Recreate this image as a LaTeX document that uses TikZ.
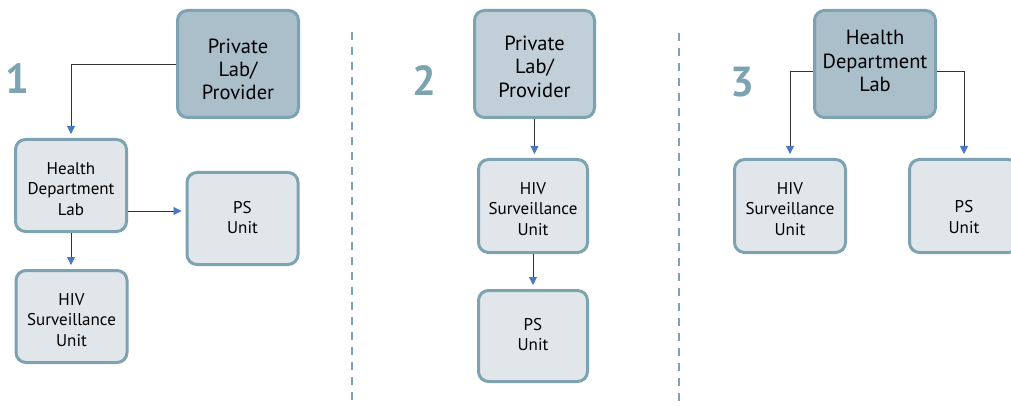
\documentclass[tikz,border=0pt]{standalone}
\usepackage{fontspec}
\setmainfont{PT Sans}
\usetikzlibrary{arrows.meta,calc}
\definecolor{bordc}{HTML}{7DA3B3}
\definecolor{darkf}{HTML}{AABFCA}
\definecolor{midf}{HTML}{C1D0D8}
\definecolor{lightf}{HTML}{E1E6EA}
\definecolor{tipc}{HTML}{4A78C2}
\definecolor{numc}{HTML}{7DA3B3}
\definecolor{linec}{HTML}{333333}
\tikzset{
  box/.style={draw=bordc, line width=3pt, rounded corners=10pt, inner sep=0pt, align=center, text=black},
  bigbox/.style={box, fill=darkf, minimum width=121pt, font=\fontsize{20.5}{23.3}\selectfont},
  smallbox/.style={box, fill=lightf, minimum width=111pt, font=\fontsize{17}{20.5}\selectfont},
  tb/.style 2 args={text height=#1pt, text depth=#2pt},
  arr/.style={draw=linec, line width=0.8pt, -{Triangle[length=8pt,width=8pt,color=tipc,fill=tipc]}, shorten >=4pt},
  sep/.style={draw=numc, line width=2pt, dash pattern=on 8pt off 7pt},
  num/.style={text=numc, font=\fontsize{42}{42}\bfseries\selectfont, inner sep=0pt}
}
\begin{document}
\begin{tikzpicture}[x=1pt,y=-1pt]
\useasboundingbox (0,0) rectangle (1011,406);
% panel 1
\node[num] (n1) at (17,79) {1};
\node[bigbox, tb={89.4}{17.6}] (p1) at (238,64) {Private\\Lab/\\Provider};
\node[smallbox, tb={75.5}{16.5}] (h1) at (71,185.5) {Health\\Department\\Lab};
\node[smallbox, tb={61.3}{30.7}] (ps1) at (242.5,218.5) {PS\\Unit};
\node[smallbox, tb={75.5}{16.5}] (hiv1) at (71.5,316.5) {HIV\\Surveillance\\Unit};
\draw[arr] (p1.west) -| (h1.north);
\coordinate (a1) at ([yshift=-25.5pt]h1.east);
\draw[arr] (a1) -- (a1 -| ps1.west);
\draw[arr] (h1.south) -- (h1.south |- hiv1.north);
% separators
\coordinate (s1t) at (352,32);
\coordinate (s1b) at (352,406);
\coordinate (s2t) at (679,33);
\coordinate (s2b) at (679,406);
\draw[sep] (s1t) -- (s1b);
\draw[sep] (s2t) -- (s2b);
% panel 2
\node[num] (n2) at (424.5,81) {2};
\node[bigbox, fill=midf, minimum width=120pt, tb={86.8}{20.2}] (p2) at (534.5,64) {Private\\Lab/\\Provider};
\node[smallbox, minimum width=109pt, tb={75.8}{17.2}] (hiv2) at (533,206) {HIV\\Surveillance\\Unit};
\node[smallbox, minimum width=109pt, tb={60}{31}] (ps2) at (533,336) {PS\\Unit};
\draw[arr] (p2.south) -- (p2.south |- hiv2.north);
\draw[arr] (hiv2.south) -- (hiv2.south |- ps2.north);
% panel 3
\node[num] (n3) at (742,82) {3};
\node[bigbox, tb={81.1}{25.9}] (h3) at (875,64) {Health\\Department\\Lab};
\node[smallbox, tb={75.8}{17.2}] (hiv3) at (790,206) {HIV\\Surveillance\\Unit};
\node[smallbox, minimum width=109pt, tb={73.7}{19.3}] (ps3) at (964,206) {PS\\Unit};
\coordinate (l3) at ([yshift=-7pt]h3.west);
\coordinate (r3) at ([yshift=-7pt]h3.east);
\draw[arr] (l3) -| (hiv3.north);
\draw[arr] (r3) -| (ps3.north);
\end{tikzpicture}
\end{document}
